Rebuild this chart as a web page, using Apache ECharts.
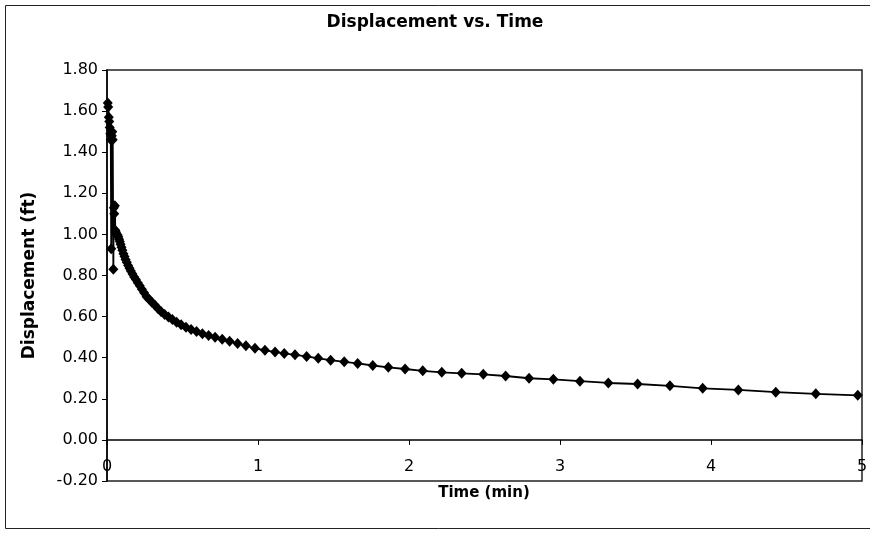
<!DOCTYPE html>
<html>
<head>
<meta charset="utf-8">
<script src="https://cdn.jsdelivr.net/npm/echarts@6/dist/echarts.min.js"></script>
<style>
html,body{margin:0;padding:0;background:#fff;}
#chart{width:870px;height:540px;}
</style>
</head>
<body>
<div id="chart"></div>
<script>
const chartTitle = 'Displacement vs. Time';
const xAxisName = 'Time (min)';
const yAxisName = 'Displacement (ft)';

const timeMin = [
  0.005, 0.008, 0.012, 0.015, 0.018, 0.022, 0.025, 0.028, 0.032, 0.035,
  0.038, 0.042, 0.045, 0.048, 0.052, 0.055, 0.060, 0.065, 0.070, 0.075,
  0.080, 0.085, 0.090, 0.096, 0.102, 0.109, 0.116, 0.123, 0.131, 0.140,
  0.149, 0.158, 0.169, 0.180, 0.191, 0.204, 0.217, 0.231, 0.246, 0.262,
  0.279, 0.297, 0.316, 0.337, 0.359, 0.382, 0.407, 0.433, 0.461, 0.491,
  0.523, 0.557, 0.593, 0.632, 0.673, 0.716, 0.763, 0.812, 0.865, 0.920,
  0.980, 1.046, 1.113, 1.174, 1.245, 1.322, 1.399, 1.481, 1.571, 1.660,
  1.760, 1.863, 1.974, 2.091, 2.217, 2.349, 2.492, 2.640, 2.795, 2.956,
  3.132, 3.320, 3.514, 3.728, 3.945, 4.181, 4.429, 4.694, 4.972
];

const displacementFt = [
  1.64, 1.62, 1.57, 1.55, 1.52, 1.49, 1.46, 0.93, 1.48, 1.50,
  1.46, 0.83, 1.13, 1.10, 1.14, 1.02, 1.01, 1.00, 0.997, 0.988,
  0.977, 0.965, 0.952, 0.938, 0.923, 0.906, 0.892, 0.878, 0.864, 0.849,
  0.835, 0.822, 0.807, 0.793, 0.780, 0.765, 0.750, 0.733, 0.716, 0.697,
  0.684, 0.670, 0.656, 0.640, 0.624, 0.610, 0.598, 0.586, 0.573, 0.560,
  0.548, 0.537, 0.527, 0.517, 0.508, 0.499, 0.490, 0.480, 0.469, 0.458,
  0.446, 0.436, 0.428, 0.421, 0.414, 0.406, 0.397, 0.388, 0.380, 0.372,
  0.362, 0.353, 0.345, 0.336, 0.329, 0.324, 0.319, 0.311, 0.300, 0.295,
  0.286, 0.277, 0.272, 0.263, 0.251, 0.243, 0.232, 0.224, 0.217
];

const seriesData = timeMin.map((t, i) => [t, displacementFt[i]]);

const chart = echarts.init(document.getElementById('chart'), null, {renderer: 'canvas'});
const fontFam = '"DejaVu Sans", Arial, sans-serif';

chart.setOption({
  animation: false,
  backgroundColor: '#ffffff',
  title: {
    text: chartTitle,
    left: 430,
    top: 9,
    textAlign: 'center',
    textStyle: {fontFamily: fontFam, fontSize: 17, fontWeight: 'bold', color: '#000'}
  },
  graphic: [{
    type: 'rect',
    shape: {x: 5.5, y: 5.5, width: 900, height: 523},
    style: {fill: 'none', stroke: '#222', lineWidth: 1},
    silent: true, z: -1
  }, {
    type: 'text',
    x: 484, y: 493,
    style: {text: xAxisName, fontFamily: fontFam, fontSize: 15, fontWeight: 'bold',
      fill: '#000', align: 'center', verticalAlign: 'middle'},
    silent: true
  }],
  grid: {
    left: 107, right: 8, top: 70, bottom: 59,
    outerBoundsMode: 'none',
    containLabel: false,
    show: true, borderColor: '#222', borderWidth: 1.5, backgroundColor: '#fff'
  },
  xAxis: {
    type: 'value',
    min: 0, max: 5, interval: 1,
    axisLine: {show: true, onZero: true, lineStyle: {color: '#000', width: 1.5}},
    axisTick: {show: true, inside: false, length: 5, lineStyle: {color: '#000'}},
    axisLabel: {fontFamily: fontFam, fontSize: 16, color: '#000', margin: -22},
    splitLine: {show: false}
  },
  yAxis: {
    type: 'value',
    min: -0.2, max: 1.8, interval: 0.2,
    name: yAxisName,
    nameLocation: 'middle',
    nameGap: 69,
    nameRotate: 90,
    nameTextStyle: {fontFamily: fontFam, fontSize: 17, fontWeight: 'bold', color: '#000'},
    axisLine: {show: true, onZero: false, lineStyle: {color: '#000', width: 1.5}},
    axisTick: {show: true, inside: false, length: 5, lineStyle: {color: '#000'}},
    axisLabel: {fontFamily: fontFam, fontSize: 16, color: '#000', margin: 9,
      formatter: v => v.toFixed(2)},
    splitLine: {show: false}
  },
  series: [{
    type: 'line',
    data: seriesData,
    symbol: 'diamond',
    symbolSize: [10, 11],
    showSymbol: true,
    itemStyle: {color: '#000'},
    lineStyle: {color: '#000', width: 1.8},
    z: 3
  }]
});
</script>
</body>
</html>
